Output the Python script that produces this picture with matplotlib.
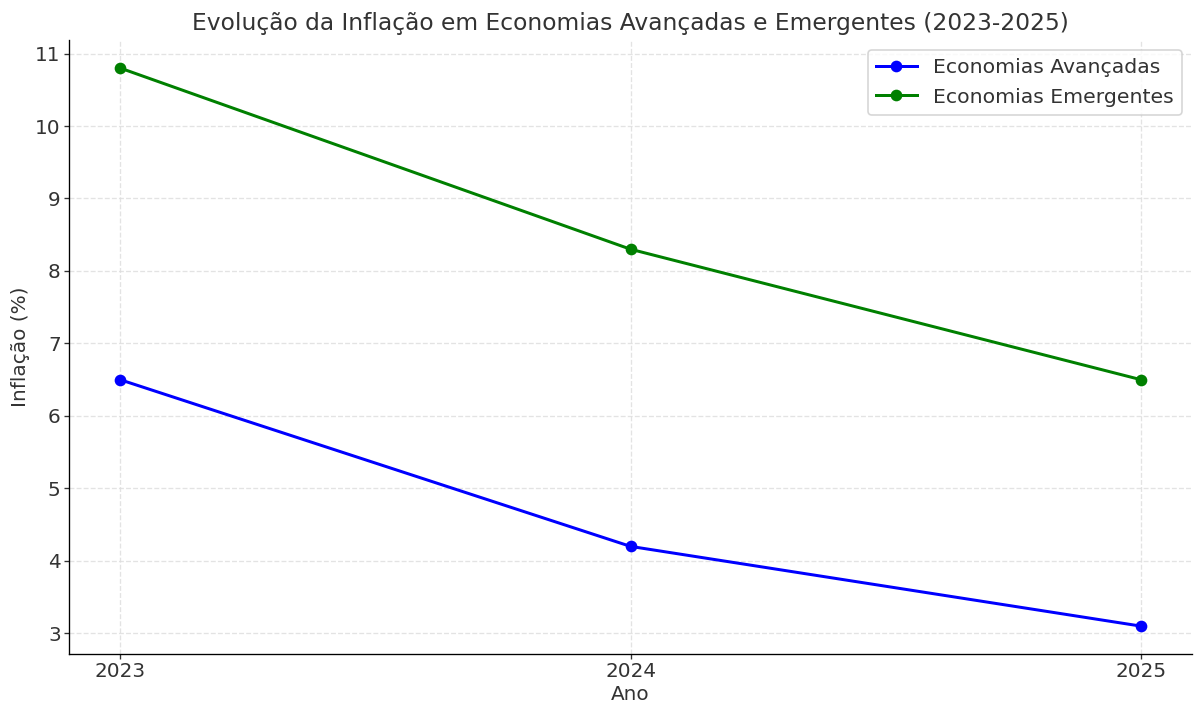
import matplotlib

matplotlib.use("Agg")
import matplotlib.pyplot as plt

anos = [2023, 2024, 2025]
avancadas = [6.5, 4.2, 3.1]
emergentes = [10.8, 8.3, 6.5]

plt.rcParams["text.color"] = "#333333"
plt.rcParams["axes.labelcolor"] = "#333333"
plt.rcParams["xtick.color"] = "#333333"
plt.rcParams["ytick.color"] = "#333333"

fig, ax = plt.subplots(figsize=(1201 / 120, 704 / 120), dpi=120)
ax.plot(anos, avancadas, marker="o", color="blue", linewidth=1.8, markersize=6,
        label="Economias Avançadas")
ax.plot(anos, emergentes, marker="o", color="green", linewidth=1.8, markersize=6,
        label="Economias Emergentes")

ax.set_title("Evolução da Inflação em Economias Avançadas e Emergentes (2023-2025)", fontsize=14)
ax.set_xlabel("Ano", fontsize=12, labelpad=2)
ax.set_ylabel("Inflação (%)", fontsize=12, labelpad=3)
ax.set_xticks(anos)
ax.tick_params(labelsize=12, length=3, pad=2)
ax.grid(True, linestyle="--", color="#dddddd", alpha=0.8)
ax.spines["top"].set_visible(False)
ax.spines["right"].set_visible(False)
ax.legend(fontsize=12.2, loc="upper right")

fig.subplots_adjust(left=0.0575, right=0.9925, bottom=0.071, top=0.943)
fig.savefig("out.png", dpi=120)
plt.close(fig)
